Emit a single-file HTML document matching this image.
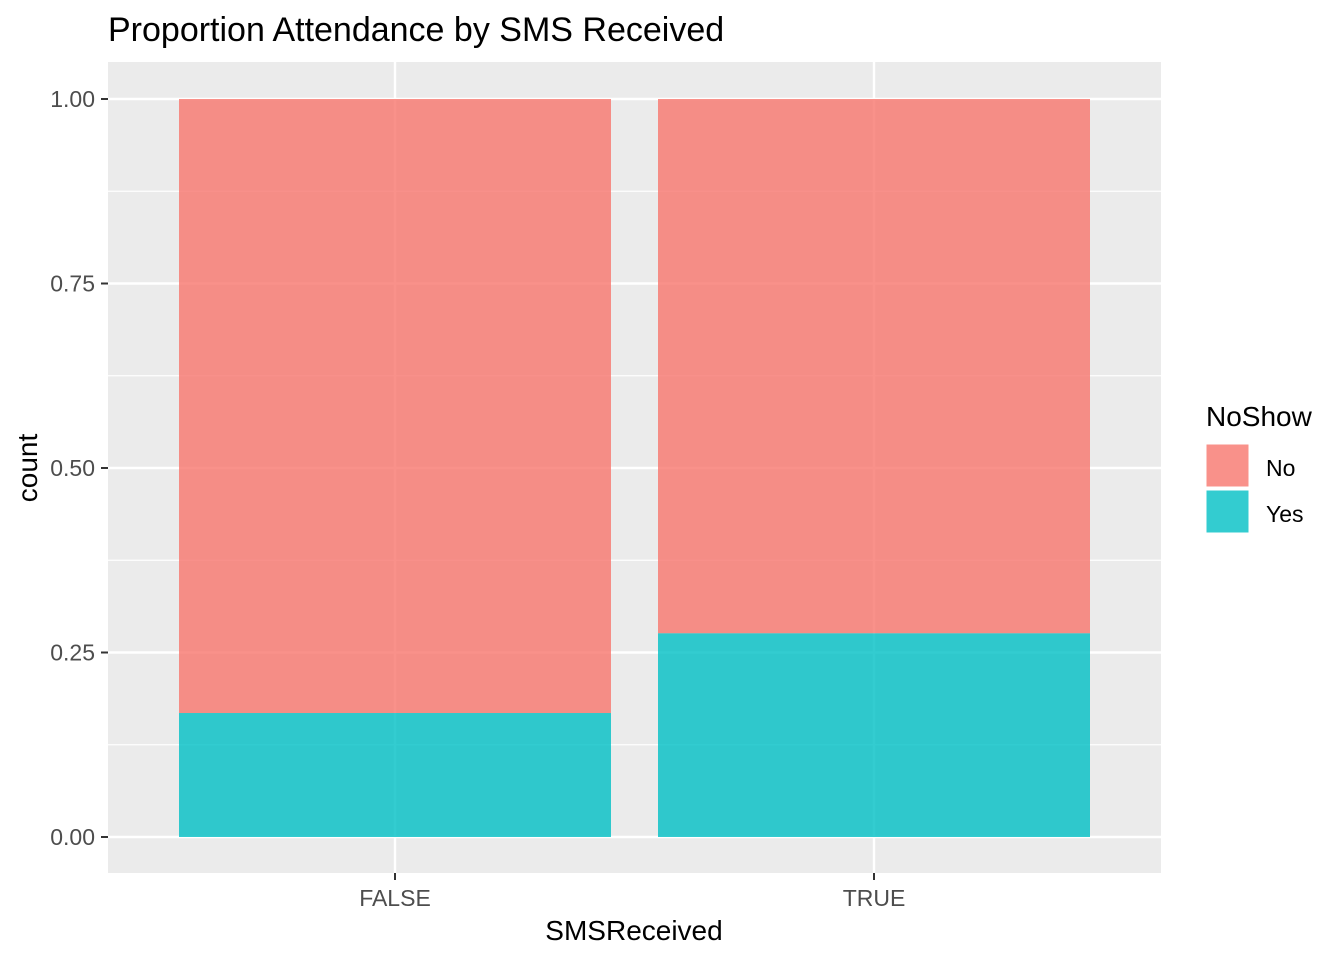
<!DOCTYPE html>
<html><head><meta charset="utf-8">
<style>
html,body{margin:0;padding:0;background:#fff;width:1344px;height:960px;overflow:hidden}
svg{display:block;font-family:"Liberation Sans",Arial,sans-serif}
</style></head>
<body>
<svg id="chart" width="1344" height="960">
  <rect x="0" y="0" width="1344" height="960" fill="#fff"/>
  <text x="108" y="41" font-size="34" fill="#000">Proportion Attendance by SMS Received</text>
  <rect x="108" y="62" width="1053" height="811" fill="#EBEBEB"/>
  <g id="grid"></g>
  <g id="bars"></g>
  <g id="axes"></g>
  <text x="634" y="940" font-size="28" text-anchor="middle" fill="#000">SMSReceived</text>
  <text transform="translate(37,468) rotate(-90)" font-size="28" text-anchor="middle" fill="#000">count</text>
  <g>
    <text x="1206" y="426" font-size="28" fill="#000">NoShow</text>
    <rect x="1206" y="444" width="43" height="43" fill="#F8766D" fill-opacity="0.8" stroke="#fff"/>
    <text x="1266" y="476" font-size="23" fill="#000">No</text>
    <rect x="1206" y="490" width="43" height="43" fill="#00BFC4" fill-opacity="0.8" stroke="#fff"/>
    <text x="1266" y="522" font-size="23" fill="#000">Yes</text>
  </g>
</svg>
<script>
const categories = ["FALSE","TRUE"];
const yesValues = [0.168, 0.276];
const noValues = [0.832, 0.724];
const yTicks = [0, 0.25, 0.5, 0.75, 1.0];
const yTickLabels = ["0.00","0.25","0.50","0.75","1.00"];

const NS="http://www.w3.org/2000/svg";
const panelL=108, panelR=1161, panelT=62, panelB=873;
function y(v){return 837 - v*738;}
function xc(i){return 395 + i*479;}
const bw=432;
function mk(tag,attrs,parent){const e=document.createElementNS(NS,tag);for(const k in attrs)e.setAttribute(k,attrs[k]);parent.appendChild(e);return e;}
const grid=document.getElementById('grid'), bars=document.getElementById('bars'), axes=document.getElementById('axes');
for(let i=0;i<yTicks.length-1;i++){
  const m=(yTicks[i]+yTicks[i+1])/2;
  const l=mk('line',{x1:panelL,x2:panelR,y1:y(m),y2:y(m),stroke:'#fff','stroke-width':1.2},grid);
  
  
}
yTicks.forEach((t,i)=>{
  const l=mk('line',{x1:panelL,x2:panelR,y1:y(t),y2:y(t),stroke:'#fff','stroke-width':2.4},grid);
  
  
  const tk=mk('line',{x1:101,x2:108,y1:y(t),y2:y(t),stroke:'#333','stroke-width':2},axes);
  
  
  const tx=mk('text',{x:95,y:y(t)+8,'font-size':23,'text-anchor':'end',fill:'#4D4D4D'},axes);
  tx.textContent=yTickLabels[i];
  
  
});
categories.forEach((c,i)=>{
  const g=mk('line',{x1:xc(i),x2:xc(i),y1:panelT,y2:panelB,stroke:'#fff','stroke-width':2.4},grid);
  
  
  const r1=mk('rect',{x:xc(i)-bw/2,y:y(yesValues[i]+noValues[i]),width:bw,height:y(yesValues[i])-y(yesValues[i]+noValues[i]),fill:'#F8766D','fill-opacity':0.8},bars);
  
  
  const r2=mk('rect',{x:xc(i)-bw/2,y:y(yesValues[i]),width:bw,height:y(0)-y(yesValues[i]),fill:'#00BFC4','fill-opacity':0.8},bars);
  
  
  const tk=mk('line',{x1:xc(i),x2:xc(i),y1:panelB,y2:panelB+7,stroke:'#333','stroke-width':2},axes);
  
  
  const tx=mk('text',{x:xc(i),y:906,'font-size':23,'text-anchor':'middle',fill:'#4D4D4D'},axes);
  tx.textContent=c;
  
  
});
</script>
</body></html>
